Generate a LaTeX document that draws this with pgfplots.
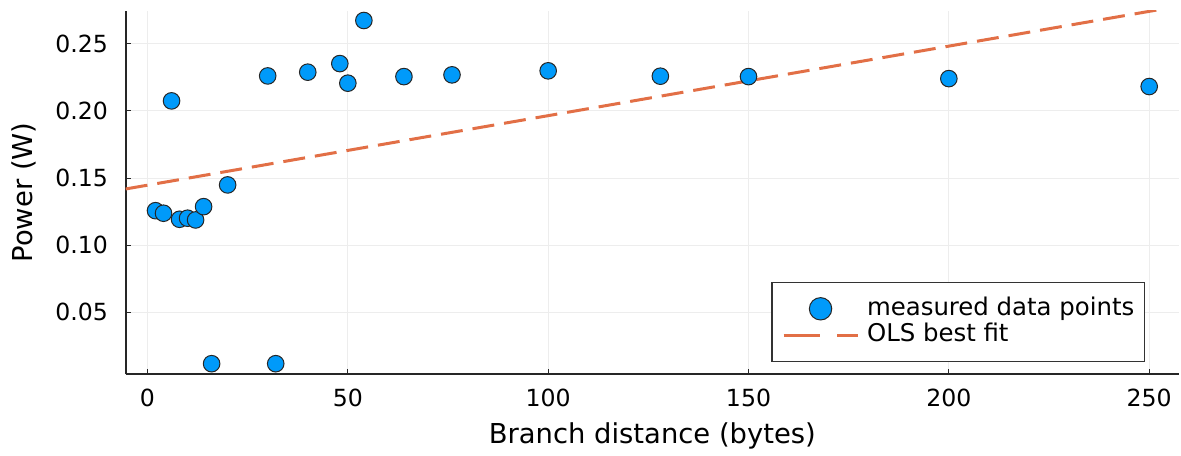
\documentclass[border=0pt]{standalone}
\usepackage{fontspec}
\setmainfont{DejaVu Sans}
\usepackage{pgfplots}
\pgfplotsset{compat=1.18}

\definecolor{ptblue}{HTML}{009AFA}
\definecolor{fitorange}{HTML}{E26F46}

\pgfplotsset{
  dot legend/.style={legend image code/.code={%
    \draw[mark repeat=2, mark phase=2, ##1, mark size=5.6bp]
      plot coordinates {(0bp,0bp) (18.5bp,0bp) (37bp,0bp)};}},
  dash legend/.style={legend image code/.code={%
    \draw[##1, dash pattern=on 18.3bp off 8.5bp on 10.2bp off 10bp]
      (0bp,0bp) -- (37bp,0bp);}},
}

\begin{document}
\begin{tikzpicture}
\begin{axis}[
  name=ax,
  scale only axis,
  width=526.65bp, height=181.8bp,
  xmin=-5.44, xmax=257.44,
  ymin=0.0038, ymax=0.2747,
  axis lines=left,
  axis line style={-, black!85, line width=0.9bp},
  xtick={0,50,100,150,200,250},
  ytick={0.05,0.10,0.15,0.20,0.25},
  tick align=inside,
  major tick length=2.6bp,
  tick style={black!85, line width=0.5bp},
  grid=major,
  major grid style={black!7, line width=0.5bp},
  /pgf/number format/assume math mode=true,
  yticklabel style={/pgf/number format/fixed, /pgf/number format/fixed zerofill,
    /pgf/number format/precision=2, font=\fontsize{11.8bp}{14bp}\selectfont,
    anchor=east, inner sep=0pt, xshift=-8.7bp},
  xticklabel style={font=\fontsize{11.8bp}{14bp}\selectfont,
    anchor=base, inner sep=0pt, yshift=-16.2bp},
  xlabel={Branch distance (bytes)},
  ylabel={Power (W)},
  label style={font=\fontsize{13.7bp}{16bp}\selectfont, inner sep=0pt},
  xlabel style={at={(axis description cs:0.5,-0.1898)}, anchor=base},
  ylabel style={at={(axis description cs:-0.1082,0.5)}, anchor=north},
  legend cell align=left,
  legend style={
    at={(axis description cs:0.9677,0.033)}, anchor=south east,
    draw=black!80, line width=0.6bp,
    inner xsep=5bp, inner ysep=6.5bp,
    font=\fontsize{12.2bp}{14bp}\selectfont,
    nodes={inner sep=0pt, text height=9.8bp, text depth=3.5bp},
    /tikz/every odd column/.append style={column sep=4bp},
  },
]
% measured power at each branch distance
\addplot[only marks, mark=*, mark size=4.15bp,
  mark options={fill=ptblue, draw=black!85, line width=0.5bp},
  dot legend]
  coordinates {
  (2,0.1257) (4,0.1238) (6,0.2075) (8,0.1193) (10,0.1201) (12,0.1188)
  (14,0.1287) (16,0.0117) (20,0.1449) (30,0.2261) (32,0.0117) (40,0.2289)
  (48,0.2353) (50,0.2207) (54,0.2674) (64,0.2256) (76,0.2269) (100,0.2299)
  (128,0.2259) (150,0.2256) (200,0.2241) (250,0.2182)
};
\addlegendentry{measured data points}
% ordinary least squares line
\addplot[fitorange, line width=1.5bp, dash pattern=on 11bp off 5bp, dash legend]
  coordinates {(-5.44,0.14188) (257.44,0.27806)};
\addlegendentry{OLS best fit}
\end{axis}
\pgfresetboundingbox
\path ([shift={(-62.85bp,-40.85bp)}]ax.south west)
  rectangle ([shift={(1bp,5.35bp)}]ax.north east);
\end{tikzpicture}
\end{document}
